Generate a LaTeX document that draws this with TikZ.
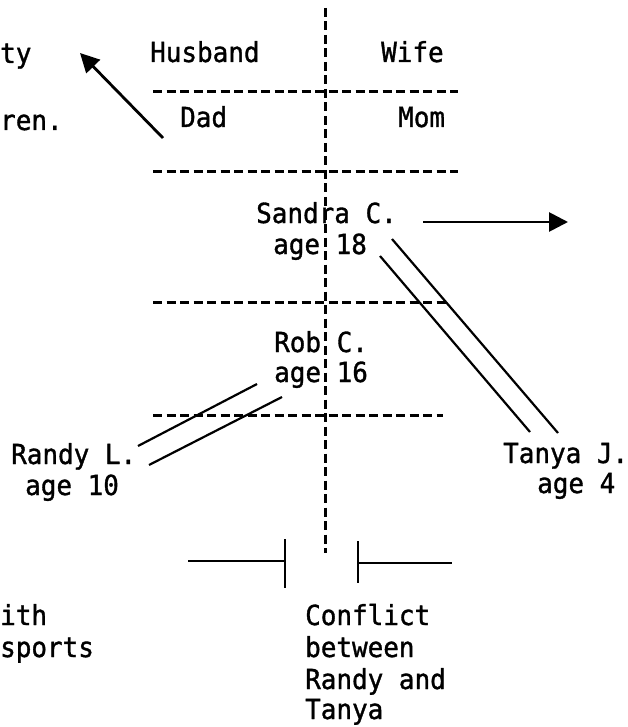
\documentclass[tikz,border=0pt]{standalone}
\usepackage{fontspec}
\usetikzlibrary{arrows.meta}
\newfontfamily\printfont[FakeStretch=0.94,FakeBold=1.2]{DejaVu Sans Mono}
\begin{document}
\begin{tikzpicture}[x=1pt,y=-1pt,
  lbl/.style={inner sep=0pt,anchor=base west,
    font=\printfont\fontsize{27.6}{31}\selectfont},
  divider/.style={line width=3pt,dash pattern=on 9pt off 4.5pt},
  link/.style={line width=2.2pt},
  bracket/.style={line width=2.2pt},
  pointer/.style={line width=2.8pt,-{Triangle[length=19pt,width=19pt]}}]
\useasboundingbox (0,0) rectangle (628,727);

% text running in from the left edge
\node[lbl] (t1) at (0,63)  {ty};
\node[lbl] (t2) at (0,130) {ren.};
\node[lbl] (t3) at (0,625) {ith};
\node[lbl] (t4) at (0,657) {sports};

% roles
\node[lbl] (husband) at (150,62) {Husband};
\node[lbl] (wife)    at (381,62) {Wife};
\node[lbl] (dad)     at (180,127) {Dad};
\node[lbl] (mom)     at (398,127) {Mom};

% children
\node[lbl] (sandra)  at (256,223) {Sandra C.};
\node[lbl] (sandraA) at (273,254) {age 18};
\node[lbl] (rob)     at (274,352) {Rob C.};
\node[lbl] (robA)    at (274,382) {age 16};
\node[lbl] (randy)   at (11,464)  {Randy L.};
\node[lbl] (randyA)  at (25,495)  {age 10};
\node[lbl] (tanya)   at (503,463) {Tanya J.};
\node[lbl] (tanyaA)  at (537,493) {age 4};

% conflict note
\node[lbl] (c1) at (305,625) {Conflict};
\node[lbl] (c2) at (305,657) {between};
\node[lbl] (c3) at (305,689) {Randy and};
\node[lbl] (c4) at (305,719) {Tanya};

% boundaries
\coordinate (vtop) at (325,8);
\coordinate (vbot) at (325,553);
\draw[divider] (vtop) -- (vbot);
\coordinate (h1a) at (153,92);  \coordinate (h1b) at (458,92);
\coordinate (h2a) at (153,172); \coordinate (h2b) at (458,172);
\coordinate (h3a) at (153,302); \coordinate (h3b) at (447,302);
\coordinate (h4a) at (153,415); \coordinate (h4b) at (443,415);
\draw[divider] (h1a) -- (h1b);
\draw[divider] (h2a) -- (h2b);
\draw[divider] (h3a) -- (h3b);
\draw[divider] (h4a) -- (h4b);

% arrows
\coordinate (p1s) at (163,138); \coordinate (p1e) at (80,53);
\draw[pointer] (p1s) -- (p1e);
\coordinate (p2s) at (423,222); \coordinate (p2e) at (568,222);
\draw[pointer] (p2s) -- (p2e);

% close ties (double lines)
\coordinate (st1) at (392,239); \coordinate (st2) at (558,433);
\coordinate (st3) at (380,256); \coordinate (st4) at (530,432);
\draw[link] (st1) -- (st2);
\draw[link] (st3) -- (st4);
\coordinate (rr1) at (138,446); \coordinate (rr2) at (257,384);
\coordinate (rr3) at (149,465); \coordinate (rr4) at (282,397);
\draw[link] (rr1) -- (rr2);
\draw[link] (rr3) -- (rr4);

% conflict bracket
\coordinate (b1) at (188,561); \coordinate (b2) at (285,561);
\coordinate (b3) at (285,539); \coordinate (b4) at (285,588);
\coordinate (b5) at (358,541); \coordinate (b6) at (358,583);
\coordinate (b7) at (358,563); \coordinate (b8) at (452,563);
\draw[bracket] (b1) -- (b2);
\draw[bracket] (b3) -- (b4);
\draw[bracket] (b5) -- (b6);
\draw[bracket] (b7) -- (b8);
\end{tikzpicture}
\end{document}
